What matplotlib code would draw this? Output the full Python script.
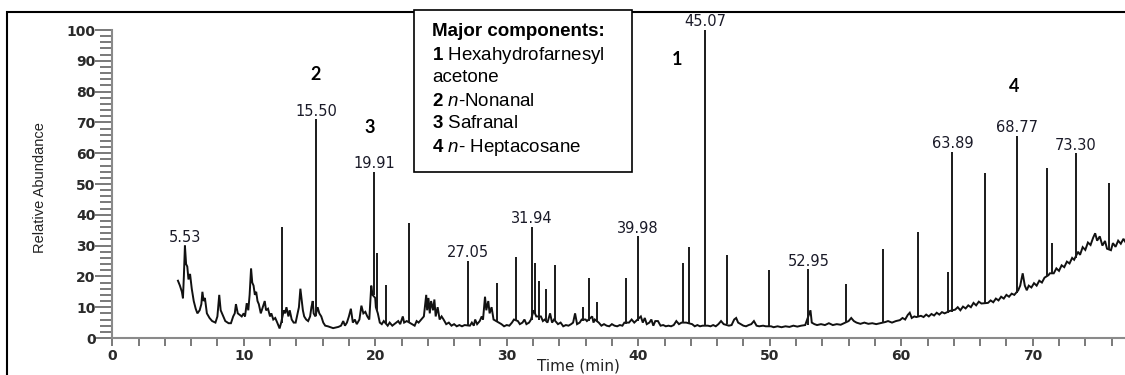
import matplotlib
matplotlib.use("Agg")
import matplotlib.pyplot as plt
from matplotlib import font_manager
from matplotlib.patches import Rectangle
from matplotlib.ticker import MultipleLocator

# chromatogram baseline / small features (time in min, relative abundance)
base_t = [5.0, 5.15, 5.3, 5.38, 5.45, 5.53, 5.62, 5.71, 5.8, 5.92, 6.05, 6.2, 6.35, 6.48, 6.65, 6.78,
          6.86, 6.95, 7.05, 7.2, 7.4, 7.6, 7.85, 8.0, 8.14, 8.25, 8.4, 8.6, 8.85, 9.03, 9.2, 9.32,
          9.41, 9.55, 9.7, 9.85, 10.0, 10.1, 10.23, 10.35, 10.45, 10.56, 10.65, 10.75, 10.85, 10.95,
          11.05, 11.15, 11.3, 11.45, 11.6, 11.7, 11.85, 12.0, 12.1, 12.25, 12.4, 12.55, 12.73, 12.85,
          13.05, 13.15, 13.25, 13.4, 13.5, 13.65, 13.8, 13.95, 14.1, 14.2, 14.31, 14.42, 14.5, 14.6,
          14.75, 14.9, 15.05, 15.15, 15.25, 15.32, 15.45, 15.62, 15.75, 15.9, 16.05, 16.2, 16.4, 16.6,
          16.8, 17.0, 17.2, 17.4, 17.57, 17.7, 17.85, 18.0, 18.15, 18.3, 18.45, 18.6, 18.8, 18.95,
          19.1, 19.25, 19.4, 19.55, 19.7, 19.8, 20.0, 20.05, 20.2, 20.35, 20.5, 20.65, 20.75, 20.95,
          21.1, 21.3, 21.45, 21.6, 21.75, 21.9, 22.1, 22.2, 22.4, 22.8, 23.0, 23.15, 23.3, 23.5,
          23.7, 23.88, 23.95, 24.05, 24.15, 24.25, 24.4, 24.5, 24.6, 24.75, 24.9, 25.05, 25.2, 25.4,
          25.6, 25.8, 26.0, 26.2, 26.4, 26.6, 26.8, 27.2, 27.35, 27.5, 27.6, 27.75, 27.95, 28.1,
          28.2, 28.35, 28.45, 28.6, 28.7, 28.85, 29.0, 29.4, 29.6, 29.8, 30.0, 30.2, 30.4, 30.55,
          30.85, 31.0, 31.2, 31.35, 31.5, 31.7, 31.85, 32.05, 32.25, 32.6, 32.75, 32.9, 33.1, 33.3,
          33.45, 33.6, 33.9, 34.1, 34.3, 34.5, 34.7, 34.9, 35.05, 35.2, 35.35, 35.55, 35.7, 36.0,
          36.1, 36.5, 36.6, 36.7, 37.0, 37.2, 37.4, 37.6, 37.8, 38.0, 38.2, 38.4, 38.6, 38.8,
          38.95, 39.3, 39.5, 39.7, 40.2, 40.35, 40.5, 40.65, 40.85, 41.0, 41.15, 41.3, 41.5, 41.7,
          41.9, 42.1, 42.3, 42.5, 42.7, 42.9, 43.1, 43.3, 43.65, 44.1, 44.3, 44.5, 44.7, 44.9,
          45.3, 45.5, 45.7, 45.9, 46.1, 46.3, 46.5, 46.9, 47.1, 47.3, 47.45, 47.6, 47.8, 48.0,
          48.2, 48.4, 48.6, 48.8, 49.0, 49.2, 49.5, 49.7, 50.1, 50.3, 50.6, 50.9, 51.2, 51.5,
          51.8, 52.1, 52.4, 52.7, 53.1, 53.2, 53.4, 53.6, 53.9, 54.2, 54.5, 54.8, 55.1, 55.4,
          55.65, 56.0, 56.2, 56.4, 56.6, 56.9, 57.2, 57.5, 57.8, 58.1, 58.4, 58.8, 59.0, 59.3,
          59.6, 59.9, 60.1, 60.3, 60.5, 60.65, 60.8, 61.0, 61.15, 61.5, 61.7, 61.9, 62.1, 62.3,
          62.5, 62.7, 62.9, 63.1, 63.3, 63.7, 64.1, 64.3, 64.5, 64.7, 64.9, 65.1, 65.3, 65.5,
          65.7, 65.9, 66.1, 66.6, 66.8, 67.0, 67.2, 67.4, 67.6, 67.8, 68.0, 68.2, 68.4, 68.6,
          68.9, 69.05, 69.24, 69.4, 69.55, 69.7, 69.9, 70.1, 70.3, 70.5, 70.7, 70.9, 71.2, 71.3,
          71.6, 71.8, 72.0, 72.2, 72.4, 72.6, 72.8, 73.0, 73.15, 73.45, 73.6, 73.8, 74.0, 74.2,
          74.4, 74.6, 74.75, 74.9, 75.1, 75.3, 75.5, 75.65, 75.95, 76.1, 76.3, 76.5, 76.7, 76.9,
          77.1, 77.3]
base_a = [18.6, 17, 15, 12.9, 20, 30, 24, 23.2, 19, 20.8, 16, 12, 9.5, 8, 9, 11,
          15, 12, 13, 8, 6.5, 5.5, 5, 7, 14, 9, 7.5, 5.5, 4.8, 4.8, 7, 8,
          11, 8, 7.5, 7, 8, 7, 11.3, 9, 14, 22.6, 18, 17, 14, 15,
          12, 11, 8, 10, 12, 9, 9.5, 7, 8, 6, 6.5, 5, 3.1, 5,
          9, 8, 10, 7, 9, 6, 5, 5, 8, 10, 16, 12, 9, 7,
          6, 5.5, 7, 10, 12, 8, 7, 10, 8, 7, 5, 4, 3.8, 3.5,
          3.2, 3.4, 3.6, 4, 5.5, 4, 5, 7, 9.5, 5, 6, 4.5, 6, 10.5,
          8, 8.5, 7, 6, 17, 14, 13, 10, 8, 5, 4.5, 5.5, 5, 4,
          5, 4, 4.5, 5, 5.5, 4.5, 7, 5, 5.5, 4.5, 4, 5.5, 5, 6,
          7, 14, 9, 13, 8, 12, 9, 12.5, 7, 10, 6, 7, 6, 4.5,
          5, 4, 4.5, 3.8, 4.2, 3.8, 4.2, 4, 5, 4, 6, 4.5, 5.5, 7,
          6, 13.4, 9, 12, 8, 10, 6, 5, 4.5, 3.8, 4.2, 4, 5, 6,
          5.5, 4.5, 5, 6, 4.5, 5, 6, 9, 7, 7, 5.5, 6, 5, 8,
          5, 6, 4.5, 5, 3.8, 4.2, 4, 4.5, 5, 8, 4.5, 5, 6, 6,
          5.5, 7, 5, 6, 5, 4, 4.5, 4, 3.8, 4.5, 4, 3.8, 4.2, 4,
          5, 5, 6, 5, 7, 5, 6.5, 4.5, 5, 6, 4, 5.5, 5.5, 4,
          4.2, 3.8, 4, 3.8, 4.2, 5.5, 4.5, 5, 5, 4.5, 3.8, 4.2, 3.8, 4,
          4, 3.8, 4.2, 3.8, 4.5, 5.5, 4.5, 4, 4.2, 6, 6.5, 5, 4.5, 4,
          3.8, 4.2, 4.5, 5.5, 4, 3.8, 4, 3.8, 3.8, 3.5, 3.8, 3.5, 3.8, 3.6,
          4, 3.7, 4, 4.2, 9, 5, 4.5, 4.2, 4.5, 4.2, 4.8, 4.2, 4.5, 4.3,
          4.8, 5.5, 6.5, 5.5, 5, 4.6, 5, 4.6, 4.8, 4.5, 4.8, 5.2, 5.5, 5,
          5.5, 5.8, 6.5, 6, 7.5, 8.2, 6.5, 7, 6.8, 7.2, 6.8, 7.6, 7, 7.8,
          7.3, 8.2, 7.6, 8.4, 8, 8.8, 9.2, 10, 9, 10.2, 9.6, 10.6, 10, 11.4,
          10.6, 11.8, 11.2, 11.4, 12.2, 11.6, 12.8, 12.2, 13.4, 12.8, 14, 13.4, 14.4, 14,
          15.5, 17, 21, 17, 15.5, 17, 16.4, 17.8, 17, 18.6, 18, 19.6, 20.4, 21,
          21, 22.6, 21.8, 23.6, 23, 24.8, 24.2, 26, 25.4, 28, 27, 29.5, 28.6, 31,
          30.2, 32.6, 34, 31.6, 33, 30, 31.5, 29, 28.5, 30.8, 29.6, 31.6, 30.6, 32.2,
          30.8, 31.5]

# sharp peaks: retention time, apex, foot
spike_t = [12.95, 15.50, 19.91, 20.12, 20.82, 22.59, 27.05, 29.24, 30.68, 31.94, 32.13, 32.46,
           32.97, 33.70, 35.83, 36.26, 36.84, 39.07, 39.98, 43.43, 43.89, 45.07, 46.73, 49.92,
           52.95, 55.80, 58.59, 61.30, 63.54, 63.89, 66.37, 68.77, 71.06, 71.45, 73.30, 75.78]
spike_top = [35.9, 71, 54, 27.5, 17.2, 37.5, 25, 17.7, 26.4, 36, 24.5, 18.5,
             16, 23.7, 10, 19.6, 11.6, 19.6, 33, 24.2, 29.6, 100, 27, 22,
             22.3, 17.5, 28.8, 34.5, 21.3, 60.5, 53.7, 65.6, 55.3, 30.7, 60, 50.2]
spike_foot = [5, 7, 14, 9, 5, 5, 4.2, 5.5, 5.5, 6, 8, 6,
              6, 5.5, 5.5, 5.5, 5.5, 4.5, 5.5, 5, 5, 4, 4.5, 3.8,
              4.2, 4.8, 5, 7, 8, 8.5, 11.3, 14.5, 20, 21, 26, 29]

# labelled retention times
label_t = [5.53, 15.50, 19.91, 27.05, 31.94, 39.98, 45.07, 52.95, 63.89, 68.77, 73.30]
label_a = [30, 71, 54, 25, 36, 33, 100, 22.3, 60.5, 65.6, 60]

# component numbers above peaks
comp_names = ["1", "2", "3", "4"]
comp_t = [42.95, 15.5, 19.6, 68.6]
comp_a = [90.3, 85.4, 68.5, 81.5]

legend_lines = ["Major components:",
                r"$\mathbf{1}$ Hexahydrofarnesyl",
                "acetone",
                r"$\mathbf{2}$ $\mathit{n}$-Nonanal",
                r"$\mathbf{3}$ Safranal",
                r"$\mathbf{4}$ $\mathit{n}$- Heptacosane"]

installed = {f.name for f in font_manager.fontManager.ttflist}
narrow = "Liberation Sans Narrow" if "Liberation Sans Narrow" in installed else "Liberation Sans"

plt.rcParams["mathtext.fontset"] = "custom"
plt.rcParams["mathtext.rm"] = "Liberation Sans"
plt.rcParams["mathtext.it"] = "Liberation Sans:italic"
plt.rcParams["mathtext.bf"] = "Liberation Sans:bold"

W, H = 1125, 375
fig = plt.figure(figsize=(W / 100, H / 100), dpi=100)

x0, px_per_min = 112.2, 13.15
ax = fig.add_axes([x0 / W, 37 / H, (W - x0) / W, 308 / H])
ax.set_xlim(0, (W - x0) / px_per_min)
ax.set_ylim(0, 100)

ax.plot(base_t, base_a, color="#111111", lw=1.4, solid_joinstyle="miter")
ax.vlines(spike_t, spike_foot, spike_top, color="#1a1a1a", lw=1.4)

# axis styling like the instrument printout
for side in ("top", "right"):
    ax.spines[side].set_visible(False)
for side in ("left", "bottom"):
    ax.spines[side].set_color("#8a8a8a")
    ax.spines[side].set_linewidth(1.5)

ax.xaxis.set_major_locator(MultipleLocator(10))
ax.xaxis.set_minor_locator(MultipleLocator(2))
ax.yaxis.set_major_locator(MultipleLocator(10))
ax.yaxis.set_minor_locator(MultipleLocator(2))
ax.tick_params(axis="y", which="major", length=12, width=1.1, color="#555555", pad=0)
ax.tick_params(axis="y", which="minor", length=8.5, width=1.1, color="#555555")
ax.tick_params(axis="x", which="both", length=6, width=1.1, color="#555555", pad=2)
for lab in ax.get_xticklabels() + ax.get_yticklabels():
    lab.set_fontfamily("DejaVu Sans")
    lab.set_fontsize(10)
    lab.set_fontweight("bold")
    lab.set_color("#2a2a2a")

ax.set_ylabel("Relative Abundance", family=narrow, fontsize=10.5, color="#222222")
ax.yaxis.set_label_coords(-0.064, 0.49)
# x title sits just left of the "40" tick label so the two do not collide
fig.text(620 / W, 1 - 366 / H, "Time (min)", family="DejaVu Sans", fontsize=11,
         color="#222222", ha="right", va="center")

for t, a in zip(label_t, label_a):
    ax.annotate(f"{t:.2f}", (t, a), xytext=(0, 0.5), textcoords="offset points",
                ha="center", va="bottom", family="DejaVu Sans", fontsize=10.5,
                color="#1a1a28", annotation_clip=False)

for name, t, a in zip(comp_names, comp_t, comp_a):
    ax.text(t, a, name, ha="center", va="center", family=["Lato", "DejaVu Sans"],
            fontweight="bold", fontsize=13, color="black", clip_on=False)

# legend box
fig.patches.append(Rectangle((414 / W, 1 - 172 / H), 218 / W, 162 / H, transform=fig.transFigure,
                             facecolor="white", edgecolor="black", lw=1.2, zorder=5))
for i, line in enumerate(legend_lines):
    fig.text(432 / W, 1 - (32 + 23 * i) / H, line, family="Liberation Sans", fontsize=13.5,
             fontweight="bold" if i == 0 else "normal", ha="left", va="center", zorder=6)

# outer frame of the original figure (cropped at right and bottom)
fig.patches.append(Rectangle((7 / W, -0.2), 2.0, 1.2 - 12 / H, transform=fig.transFigure,
                             fill=False, edgecolor="black", lw=1.5, zorder=0))

fig.savefig("out.png", dpi=100)
